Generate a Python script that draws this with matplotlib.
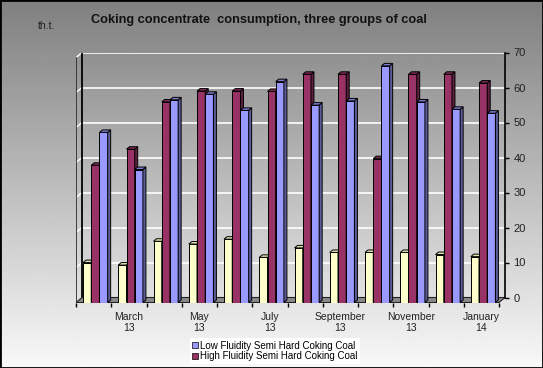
import numpy as np
import matplotlib
matplotlib.use("Agg")
import matplotlib.pyplot as plt
from matplotlib.patches import Polygon, Rectangle

plt.rcParams['font.family'] = ['Liberation Sans', 'DejaVu Sans']

months = ['February', 'March', 'April', 'May', 'June', 'July', 'August',
          'September', 'October', 'November', 'December', 'January']
years = ['13'] * 11 + ['14']
third_group = [11.4, 10.7, 17.5, 16.7, 18.1, 12.9, 15.6, 14.3, 14.3, 14.3, 13.7, 13.1]
high_fluidity = [39.2, 43.8, 57.3, 60.4, 60.4, 60.3, 65.2, 65.2, 41.1, 65.2, 65.2, 62.7]
low_fluidity = [48.6, 38.0, 57.9, 59.5, 54.9, 63.1, 56.4, 57.6, 67.6, 57.3, 55.2, 54.1]
yticks = [0, 10, 20, 30, 40, 50, 60, 70]

series = [
    (third_group, '#ffffcc', '#b3b38f', '#e0e0b0', None),
    (high_fluidity, '#993366', '#5c1f3d', '#7a2952', 'High Fluidity Semi Hard Coking Coal'),
    (low_fluidity, '#9999ff', '#5c5c99', '#7a7acc', 'Low Fluidity Semi Hard Coking Coal'),
]

W, H = 543, 368
px_cat, px_unit = 35.25, 3.5
dx, dy = 6 / px_cat, 5 / px_unit        # wall depth in data units
sx, sy = 3 / px_cat, 2.5 / px_unit      # bar depth
bw = 8.2 / px_cat
n = len(months)

fig = plt.figure(figsize=(W / 100, H / 100), dpi=100)

# gradient background
bg = fig.add_axes([0, 0, 1, 1], zorder=-10)
grad = np.linspace(0.5, 0.975, 256).reshape(-1, 1)
bg.imshow(grad, cmap='gray', vmin=0, vmax=1, aspect='auto', extent=[0, 1, 0, 1])
bg.set_axis_off()

ax = fig.add_axes([76 / W, (H - 302.5) / H, (n + dx) * px_cat / W, (70 + dy) * px_unit / H])
ax.set_facecolor('none')
ax.set_xlim(0, n + dx)
ax.set_ylim(0, 70 + dy)

# back wall grid
for v in yticks[1:]:
    ax.plot([dx, n + dx], [v + dy, v + dy], color='white', lw=1.2, zorder=1)
    ax.plot([0, dx], [v, v + dy], color='white', lw=1.0, zorder=1)

# left wall edges
ax.plot([0, 0], [0, 70], color='#333333', lw=1.3, zorder=2)
ax.plot([dx, dx], [dy, 70 + dy], color='black', lw=1.3, zorder=2)

# floor
ax.add_patch(Polygon([(0, 0), (n, 0), (n + dx, dy), (dx, dy)], closed=True,
                     facecolor='#8a8a8a', edgecolor='#222222', lw=0.8, zorder=2))

# 3d-looking bars
z = 3
for i in range(n):
    for k, (vals, front, side, top, lab) in enumerate(series):
        x0 = i + 0.2 + k * bw
        v = vals[i]
        ax.bar(x0, v, width=bw, align='edge', color=front, edgecolor='black', lw=0.7, zorder=z)
        ax.add_patch(Polygon([(x0 + bw, 0), (x0 + bw + sx, sy), (x0 + bw + sx, v + sy), (x0 + bw, v)],
                             closed=True, facecolor=side, edgecolor='black', lw=0.7, zorder=z))
        ax.add_patch(Polygon([(x0, v), (x0 + sx, v + sy), (x0 + bw + sx, v + sy), (x0 + bw, v)],
                             closed=True, facecolor=top, edgecolor='black', lw=0.7, zorder=z))
        z += 1

for s in ['top', 'left', 'bottom']:
    ax.spines[s].set_visible(False)
ax.spines['right'].set_bounds(dy, 70 + dy)
ax.spines['right'].set_linewidth(1.2)

ax.yaxis.tick_right()
ax.set_yticks([v + dy for v in yticks], [str(v) for v in yticks])
ax.tick_params(axis='y', direction='out', length=3, width=1, labelsize=8, labelcolor='#222222', pad=3)

ax.set_xticks(range(n + 1), [''] * (n + 1))
ax.set_xticks([i + 0.5 for i in range(1, n, 2)],
              [f'{months[i]}\n{years[i]}' for i in range(1, n, 2)], minor=True)
ax.tick_params(axis='x', which='major', direction='out', length=3, width=1)
ax.tick_params(axis='x', which='minor', length=0, labelsize=7.5, labelcolor='#222222', pad=7)
for t in ax.get_xticklabels(minor=True):
    t.set_linespacing(1.1)

handles = [Rectangle((0, 0), 1, 1, facecolor=c, edgecolor='black', lw=0.5)
           for c in (series[2][1], series[1][1])]
fig.legend(handles, [series[2][4], series[1][4]], loc='center', bbox_to_anchor=(275 / W, 1 - 351 / H),
           fontsize=7.0, frameon=True, facecolor='white', edgecolor='none', fancybox=False,
           handlelength=0.6, handleheight=0.6, handletextpad=0.2, labelspacing=0.1,
           borderpad=0.25, framealpha=1)

fig.text(259 / W, 1 - 20 / H, 'Coking concentrate  consumption, three groups of coal',
         ha='center', va='center', fontsize=9.2, fontweight='bold', color='#111111')
fig.text(47 / W, 1 - 26 / H, 'th.t.', ha='center', va='center', fontsize=7.6, color='#222222')

fig.add_artist(Rectangle((0, 0), 1, 1, transform=fig.transFigure, fill=False,
                         edgecolor='black', lw=2))

fig.savefig('out.png', dpi=100)
